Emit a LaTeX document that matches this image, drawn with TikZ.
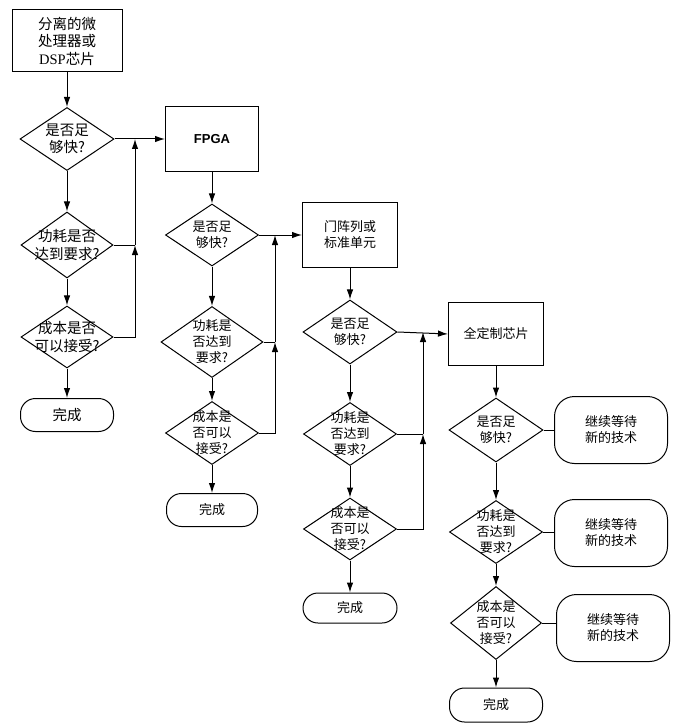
\documentclass[tikz,border=0pt]{standalone}
\usepackage{fontspec}
\setmainfont{Liberation Serif}
\newfontfamily\cjk{Noto Sans CJK SC}
\newfontfamily\hv{Liberation Sans}
\usetikzlibrary{shapes.geometric,arrows.meta}
\begin{document}
\begin{tikzpicture}[x=1pt,y=-1pt, line width=1pt,
  every node/.style={font=\cjk\fontsize{13}{16}\selectfont, align=center},
  big/.style={font=\cjk\fontsize{14.5}{17.5}\selectfont},
  box/.style={draw, rectangle, inner sep=0pt},
  dia/.style={draw, diamond, inner sep=0pt},
  term/.style={draw, rectangle, rounded corners=15pt, inner sep=0pt},
  wait/.style={draw, rectangle, rounded corners=20pt, inner sep=0pt, minimum width=113pt, minimum height=67pt},
  arr/.style={-{Latex[length=10pt,width=6.5pt]}},
]
\useasboundingbox (0,0) rectangle (691,727);

% ---------- column 1 ----------
\node[box, big, minimum width=110pt, minimum height=62pt] (b1) at (67,41) {分离的微\\处理器或\\{\rmfamily DSP}芯片};
\node[dia, minimum width=94pt, minimum height=63pt, label={[big]center:{是否足\\够快?}}] (d11) at (67,139) {};
\node[dia, minimum width=92pt, minimum height=66pt, label={[big]center:{功耗是否\\达到要求?}}] (d12) at (67,245) {};
\node[dia, minimum width=92pt, minimum height=62pt, label={[big]center:{成本是否\\可以接受?}}] (d13) at (67,337) {};
\node[term, big, minimum width=93pt, minimum height=33pt] (e1) at (67,415) {完成};

% ---------- column 2 ----------
\node[box, minimum width=93pt, minimum height=65pt, font=\hv\bfseries\fontsize{13}{16}\selectfont] (b2) at (212,139) {FPGA};
\node[dia, minimum width=93pt, minimum height=62pt, label={center:{是否足\\够快?}}] (d21) at (212,235) {};
\node[dia, minimum width=102pt, minimum height=71pt, label={center:{功耗是\\否达到\\要求?}}] (d22) at (212,342) {};
\node[dia, minimum width=93pt, minimum height=63pt, label={center:{成本是\\否可以\\接受?}}] (d23) at (212,433) {};
\node[term, minimum width=91pt, minimum height=33pt] (e2) at (212,510) {完成};

% ---------- column 3 ----------
\node[box, minimum width=95pt, minimum height=65pt] (b3) at (350,235) {门阵列或\\标准单元};
\node[dia, minimum width=94pt, minimum height=64pt, label={center:{是否足\\够快?}}] (d31) at (350,332) {};
\node[dia, minimum width=93pt, minimum height=63pt, label={center:{功耗是\\否达到\\要求?}}] (d32) at (350,434) {};
\node[dia, minimum width=93pt, minimum height=62pt, label={center:{成本是\\否可以\\接受?}}] (d33) at (350,529) {};
\node[term, minimum width=94pt, minimum height=30pt] (e3) at (350,608) {完成};

% ---------- column 4 ----------
\node[box, minimum width=95pt, minimum height=63pt] (b4) at (496,334) {全定制芯片};
\node[dia, minimum width=94pt, minimum height=64pt, label={center:{是否足\\够快?}}] (d41) at (496,430) {};
\node[dia, minimum width=93pt, minimum height=63pt, label={center:{功耗是\\否达到\\要求?}}] (d42) at (496,532) {};
\node[dia, minimum width=91pt, minimum height=73pt, label={center:{成本是\\否可以\\接受?}}] (d43) at (496,623) {};
\node[term, minimum width=93pt, minimum height=34pt] (e4) at (496,705) {完成};

\node[wait] (w1) at (611,430) {继续等待\\新的技术};
\node[wait] (w2) at (611,533) {继续等待\\新的技术};
\node[wait] (w3) at (613,628) {继续等待\\新的技术};

% ---------- vertical flow ----------
\foreach \a/\b in {b1/d11,d11/d12,d12/d13,d13/e1,
                   b2/d21,d21/d22,d22/d23,d23/e2,
                   b3/d31,d31/d32,d32/d33,d33/e3,
                   b4/d41,d41/d42,d42/d43,d43/e4}
  \draw[arr] (\a) -- (\b);

% ---------- feedback column 1 ----------
\coordinate (c1a) at (135,139);
\coordinate (c1b) at (d12.east -| c1a);
\draw[arr] (d11.east) -- (b2.west);
\draw (d12.east) -- (c1b);
\draw[arr] (c1b) -- (c1a);
\draw[arr] (d13.east) -| (c1b);

% ---------- feedback column 2 ----------
\coordinate (c2a) at (275,235);
\coordinate (c2b) at (d22.east -| c2a);
\draw[arr] (d21.east) -- (b3.west);
\draw (d22.east) -- (c2b);
\draw[arr] (c2b) -- (c2a);
\draw[arr] (d23.east) -| (c2b);

% ---------- feedback column 3 ----------
\coordinate (c3a) at (423,332);
\coordinate (c3b) at (d32.east -| c3a);
\draw[arr] (d31.east) -- (b4.west);
\draw (d32.east) -- (c3b);
\draw[arr] (c3b) -- (c3a);
\draw[arr] (d33.east) -| (c3b);

% ---------- column 4 side boxes ----------
\draw (d41.east) -- (d41.east -| w1.west);
\draw (d42.east) -- (d42.east -| w2.west);
\draw (d43.east) -- (d43.east -| w3.west);
\end{tikzpicture}
\end{document}
